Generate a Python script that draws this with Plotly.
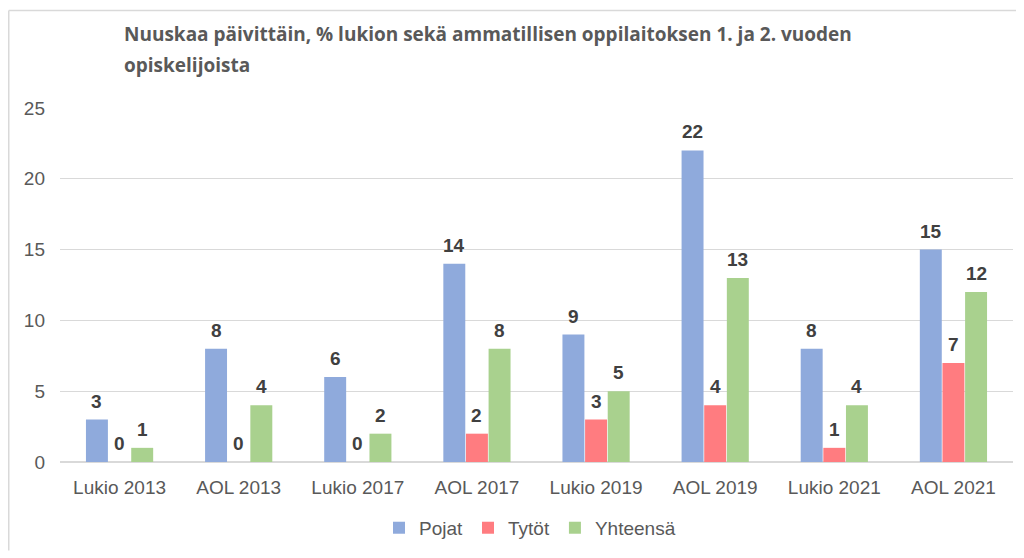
import plotly.graph_objects as go

categories = ["Lukio 2013", "AOL 2013", "Lukio 2017", "AOL 2017",
              "Lukio 2019", "AOL 2019", "Lukio 2021", "AOL 2021"]
pojat = [3, 8, 6, 14, 9, 22, 8, 15]
tytot = [0, 0, 0, 2, 3, 4, 1, 7]
yhteensa = [1, 4, 2, 8, 5, 13, 4, 12]

series = [
    ("Pojat", pojat, "#8FAADC"),
    ("Tytöt", tytot, "#FF7C80"),
    ("Yhteensä", yhteensa, "#A9D18E"),
]

# plot area in figure pixels (page adds an 8px body margin)
L, T, R, B = 52, 100, 11, 90
W, H = 1016, 550
PW = W - L - R
PH = H - T - B
BAR_SLOT = PW / len(categories) * (1 - 0.43) / 3

fig = go.Figure()
for i, (name, vals, color) in enumerate(series):
    fig.add_trace(go.Bar(
        x=categories, y=vals, name=name,
        marker=dict(color=color, line=dict(width=0)),
    ))
    # bold value labels above each bar
    for cat, v in zip(categories, vals):
        fig.add_annotation(
            x=cat, y=v, text=f"<b>{v}</b>", showarrow=False,
            xanchor="center", yanchor="bottom",
            xshift=(i - 1) * BAR_SLOT, yshift=6,
            font=dict(family="Arial, Liberation Sans", size=19, color="#404040"),
        )

title_font = dict(family="Open Sans", size=19, color="#595959")
fig.add_annotation(text="<b>Nuuskaa päivittäin, % lukion sekä ammatillisen oppilaitoksen 1. ja 2. vuoden</b>",
                   xref="paper", yref="paper", x=(114 - L) / PW, y=(T + PH - 25) / PH,
                   xanchor="left", yanchor="middle", showarrow=False, font=title_font)
fig.add_annotation(text="<b>opiskelijoista</b>",
                   xref="paper", yref="paper", x=(114 - L) / PW, y=(T + PH - 56) / PH,
                   xanchor="left", yanchor="middle", showarrow=False, font=title_font)

# chart frame (left and top edges)
fx = (0.75 - L) / PW
fy = (T + PH - 0.75) / PH
fig.add_shape(type="line", xref="paper", yref="paper",
              x0=fx, x1=fx, y0=(T + PH - H) / PH, y1=fy,
              line=dict(color="#D9D9D9", width=1.5))
fig.add_shape(type="line", xref="paper", yref="paper",
              x0=fx, x1=(W - L) / PW, y0=fy, y1=fy,
              line=dict(color="#D9D9D9", width=1.5))

fig.update_layout(
    width=W, height=H,
    margin=dict(l=L, r=R, t=T, b=B),
    paper_bgcolor="white", plot_bgcolor="white",
    barmode="group", bargap=0.43, bargroupgap=0.03,
    showlegend=True,
    legend=dict(orientation="h", x=(522 - L) / PW, xanchor="center",
                y=-(527 - T - PH) / PH, yanchor="middle",
                font=dict(family="Arial, Liberation Sans", size=19, color="#595959"),
                itemwidth=30, traceorder="normal"),
    xaxis=dict(showgrid=False, showline=False, ticks="",
               tickfont=dict(family="Arial, Liberation Sans", size=19, color="#595959"),
               ticklabelstandoff=12),
    yaxis=dict(range=[0, 25], dtick=5, showgrid=True, gridcolor="#D9D9D9", gridwidth=1,
               zeroline=True, zerolinecolor="#D9D9D9", zerolinewidth=1.5, showline=False,
               tickfont=dict(family="Arial, Liberation Sans", size=19, color="#595959"),
               ticklabelstandoff=14),
)

fig.write_html("out.html")
